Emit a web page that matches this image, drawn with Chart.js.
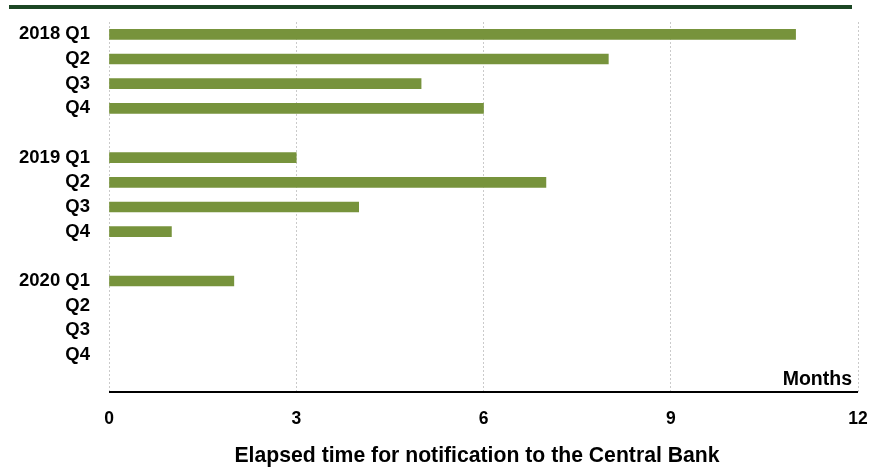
<!DOCTYPE html>
<html>
<head>
<meta charset="utf-8">
<script src="https://cdn.jsdelivr.net/npm/chart.js@4/dist/chart.umd.min.js"></script>
<style>
  html, body { margin: 0; padding: 0; background: #ffffff; }
  #wrap { position: relative; width: 874px; height: 468px; }
</style>
</head>
<body>
<div id="wrap"><canvas id="chart"></canvas></div>
<script>
// Quarter labels; empty strings leave a blank row between years
const categories = [
  '2018 Q1', 'Q2', 'Q3', 'Q4', '',
  '2019 Q1', 'Q2', 'Q3', 'Q4', '',
  '2020 Q1', 'Q2', 'Q3', 'Q4', ''
];
// Months elapsed before notification (null = no value)
const months = [
  11, 8, 5, 6, null,
  3, 7, 4, 1, null,
  2, null, null, null, null
];
const xTicks = [0, 3, 6, 9, 12];
const axisUnit = 'Months';
const axisTitle = 'Elapsed time for notification to the Central Bank';

const FONT = '"Liberation Sans", Arial, sans-serif';

const decorations = {
  id: 'decorations',
  afterDraw(chart) {
    const { ctx, chartArea } = chart;
    ctx.save();
    // dark green rule across the top
    ctx.fillStyle = '#1c4724';
    ctx.fillRect(9, 5, 843, 4);
    // x axis line
    ctx.strokeStyle = '#000000';
    ctx.lineWidth = 2;
    ctx.beginPath();
    ctx.moveTo(chartArea.left, chartArea.bottom);
    ctx.lineTo(chartArea.right, chartArea.bottom);
    ctx.stroke();
    // unit label and axis title
    ctx.fillStyle = '#000000';
    ctx.font = 'bold 19.5px ' + FONT;
    ctx.textAlign = 'right';
    ctx.textBaseline = 'middle';
    ctx.fillText(axisUnit, 852, 380);
    ctx.font = 'bold 21.2px ' + FONT;
    ctx.textAlign = 'center';
    ctx.fillText(axisTitle, 477, 456);
    ctx.restore();
  }
};

new Chart(document.getElementById('chart'), {
  type: 'bar',
  data: {
    labels: categories,
    datasets: [{
      data: months,
      backgroundColor: '#77933c',
      borderWidth: 0,
      barThickness: 10
    }]
  },
  options: {
    indexAxis: 'y',
    responsive: true,
    maintainAspectRatio: false,
    animation: false,
    layout: { padding: { top: 22, right: 16, left: 0, bottom: 0 } },
    plugins: {
      legend: { display: false },
      tooltip: { enabled: false }
    },
    scales: {
      x: {
        min: 0,
        max: 12,
        afterBuildTicks(scale) {
          scale.ticks = xTicks.map(v => ({ value: v }));
        },
        afterFit(scale) {
          scale.height = 76;
          scale.paddingLeft = 0;
          scale.paddingRight = 0;
        },
        grid: {
          color: '#cacaca',
          lineWidth: 1,
          drawTicks: false
        },
        border: { display: false, dash: [2, 2] },
        ticks: {
          color: '#000000',
          padding: 17,
          font: { family: FONT, size: 17.5, weight: 'bold' }
        }
      },
      y: {
        afterFit(scale) {
          scale.width = 109;
          scale.paddingTop = 0;
          scale.paddingBottom = 0;
        },
        grid: { display: false, drawTicks: false },
        border: { display: false },
        ticks: {
          color: '#000000',
          padding: 19,
          autoSkip: false,
          font: { family: FONT, size: 18.5, weight: 'bold' }
        }
      }
    }
  },
  plugins: [decorations]
});
</script>
</body>
</html>
